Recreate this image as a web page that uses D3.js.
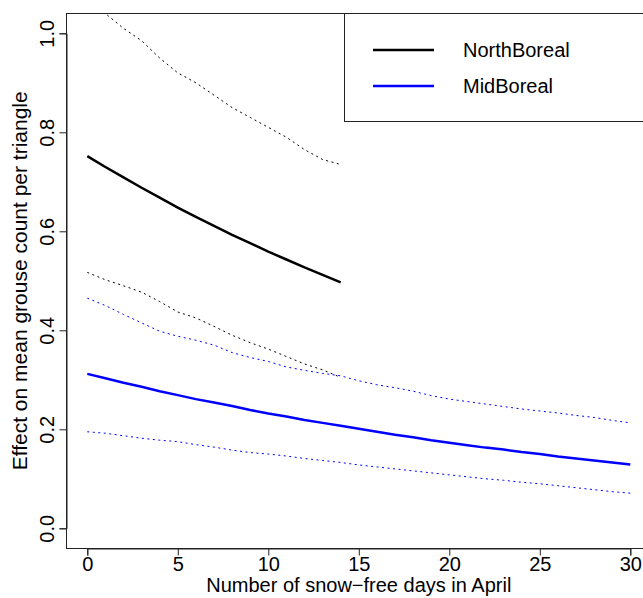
<!DOCTYPE html>
<html>
<head>
<meta charset="utf-8">
<title>Grouse count vs snow-free days</title>
<script src="https://d3js.org/d3.v7.min.js"></script>
<style>
  body { margin: 0; background: #fff; }
  text { font-family: "Liberation Sans", Arial, sans-serif; }
</style>
</head>
<body>
<div id="chart"></div>
<script>
// days in April (x values)
var daysNorth = d3.range(0, 15);
var daysMid = d3.range(0, 31);

// NorthBoreal: fitted effect and CI bounds
var northMean = [0.752, 0.730, 0.709, 0.688, 0.668, 0.648, 0.629, 0.611, 0.593, 0.576, 0.559, 0.543, 0.527, 0.512, 0.497];
var northUpper = [1.075, 1.04, 1.01, 0.985, 0.95, 0.92, 0.90, 0.875, 0.85, 0.83, 0.81, 0.79, 0.765, 0.745, 0.735];
var northLower = [0.517, 0.502, 0.490, 0.477, 0.458, 0.437, 0.425, 0.408, 0.390, 0.375, 0.362, 0.347, 0.332, 0.320, 0.305];

// MidBoreal: fitted effect and CI bounds
var midMean = [0.312, 0.303, 0.294, 0.286, 0.277, 0.269, 0.261, 0.254, 0.247, 0.239, 0.232, 0.226, 0.219, 0.213, 0.207, 0.201,
               0.195, 0.189, 0.184, 0.178, 0.173, 0.168, 0.163, 0.159, 0.154, 0.150, 0.145, 0.141, 0.137, 0.133, 0.129];
var midUpper = [0.465, 0.450, 0.432, 0.415, 0.398, 0.388, 0.380, 0.370, 0.355, 0.345, 0.337, 0.326, 0.319, 0.313, 0.308, 0.298,
                0.290, 0.284, 0.277, 0.268, 0.261, 0.256, 0.251, 0.246, 0.241, 0.237, 0.233, 0.228, 0.224, 0.218, 0.213];
var midLower = [0.195, 0.192, 0.187, 0.182, 0.178, 0.175, 0.169, 0.164, 0.158, 0.153, 0.150, 0.146, 0.141, 0.137, 0.133, 0.128,
                0.124, 0.120, 0.116, 0.112, 0.108, 0.104, 0.100, 0.097, 0.093, 0.090, 0.086, 0.082, 0.078, 0.074, 0.071];

var xTicks = [0, 5, 10, 15, 20, 25, 30];
var yTicks = [0.0, 0.2, 0.4, 0.6, 0.8, 1.0];
var legendNames = ["NorthBoreal", "MidBoreal"];
var legendColors = ["#000000", "#0000ff"];

var W = 643, H = 598;

// plot region (R style, 4% extension on both axes)
var x = d3.scaleLinear().domain([0, 30]).range([87.3, 630.3]);
var y = d3.scaleLinear().domain([0, 1]).range([528.3, 33.3]);
var box = {left: x(-1.2), right: x(31.2), top: y(1.04), bottom: y(-0.04)};

var svg = d3.select("#chart").append("svg")
    .attr("width", W)
    .attr("height", H);

svg.append("clipPath").attr("id", "clip")
  .append("rect")
    .attr("x", box.left).attr("y", box.top)
    .attr("width", box.right - box.left).attr("height", box.bottom - box.top);

var plot = svg.append("g").attr("clip-path", "url(#clip)");

function drawLine(days, vals, color, width, dash) {
    var line = d3.line()
        .x(function(d) { return x(d); })
        .y(function(d, i) { return y(vals[i]); });
    plot.append("path")
        .datum(days)
        .attr("d", line)
        .attr("fill", "none")
        .attr("stroke", color)
        .attr("stroke-width", width)
        .attr("stroke-dasharray", dash);
}

// confidence bands (dotted)
drawLine(daysNorth, northUpper, "#000", 1, "2,3.5");
drawLine(daysNorth, northLower, "#000", 1, "2,3.5");
drawLine(daysMid, midUpper, "#0000ff", 1, "2,3.5");
drawLine(daysMid, midLower, "#0000ff", 1, "2,3.5");
// fitted lines
drawLine(daysNorth, northMean, "#000", 2.5, null);
drawLine(daysMid, midMean, "#0000ff", 2.5, null);

// box
svg.append("rect")
    .attr("x", Math.round(box.left) + 0.5)
    .attr("y", Math.round(box.top) + 0.5)
    .attr("width", box.right - box.left)
    .attr("height", Math.round(box.bottom) - Math.round(box.top))
    .attr("fill", "none")
    .attr("stroke", "#222")
    .attr("stroke-width", 1);

// x axis
var xAxis = svg.append("g")
    .attr("transform", "translate(0," + (Math.round(box.bottom) + 0.5) + ")")
    .call(d3.axisBottom(x).tickValues(xTicks).tickSize(7).tickFormat(d3.format("d")));
xAxis.select(".domain").attr("stroke", "#222");
xAxis.selectAll(".tick line").attr("stroke", "#222");
xAxis.selectAll("text")
    .attr("y", 22.5).attr("dy", null)
    .attr("font-size", 20)
    .attr("font-family", "Liberation Sans, Arial, sans-serif")
    .attr("fill", "#000");

// y axis
var yAxis = svg.append("g")
    .attr("transform", "translate(" + (Math.round(box.left) + 0.5) + ",0)")
    .call(d3.axisLeft(y).tickValues(yTicks).tickSize(7).tickFormat(d3.format(".1f")));
yAxis.select(".domain").attr("stroke", "#222");
yAxis.selectAll(".tick line").attr("stroke", "#222");
yAxis.selectAll("text")
    .attr("x", 0).attr("dy", null)
    .attr("transform", "translate(-13,0) rotate(-90)")
    .attr("text-anchor", "middle")
    .attr("font-size", 20)
    .attr("font-family", "Liberation Sans, Arial, sans-serif")
    .attr("fill", "#000");

// axis titles
svg.append("text")
    .attr("x", (x(0) + x(30)) / 2)
    .attr("y", 592)
    .attr("text-anchor", "middle")
    .attr("font-size", 20)
    .text("Number of snow\u2212free days in April");

svg.append("text")
    .attr("transform", "translate(27," + ((box.top + box.bottom) / 2) + ") rotate(-90)")
    .attr("text-anchor", "middle")
    .attr("font-size", 21)
    .text("Effect on mean grouse count per triangle");

// legend
var leg = svg.append("g");
leg.append("rect")
    .attr("x", 344.5).attr("y", Math.round(box.top) + 0.5)
    .attr("width", 320).attr("height", 121.5 - Math.round(box.top) - 0.5)
    .attr("fill", "#fff")
    .attr("stroke", "#222");
legendNames.forEach(function(name, i) {
    var ly = 50 + i * 36;
    leg.append("line")
        .attr("x1", 373).attr("x2", 434)
        .attr("y1", ly).attr("y2", ly)
        .attr("stroke", legendColors[i])
        .attr("stroke-width", 2.5);
    leg.append("text")
        .attr("x", 463)
        .attr("y", ly + 7)
        .attr("font-size", 20)
        .text(name);
});
</script>
</body>
</html>
